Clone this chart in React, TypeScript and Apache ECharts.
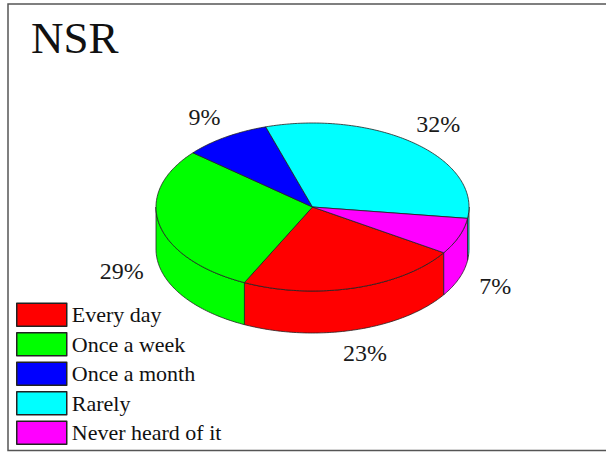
import React, { useEffect, useRef } from "react";
import * as echarts from "echarts";

const categories = ["Every day", "Once a week", "Once a month", "Rarely", "Never heard of it"];
const values = [23, 29, 9, 32, 7];
const pctLabels = ["23%", "29%", "9%", "32%", "7%"];
const colors = ["#ff0000", "#00ff00", "#0000ff", "#00ffff", "#ff00ff"];
const titleText = "NSR";

const SERIF = "Liberation Serif";

// geometry of the projected disc
const CX = 312.5;
const CY = 207;
const RX = 156.5;
const RY = 84;
const DEPTH = 42;
const START = 33; // degrees, clockwise on screen
const LBL_RX = 195;
const LBL_RY = 105;
const EDGE = "#222";

const total = values.reduce((a, b) => a + b, 0);
const cumStart: number[] = [];
values.reduce((acc, v, i) => {
  cumStart[i] = acc;
  return acc + v;
}, 0);

function pt(tDeg: number, dy = 0): number[] {
  const r = (tDeg * Math.PI) / 180;
  return [CX + RX * Math.cos(r), CY + RY * Math.sin(r) + dy];
}

function arc(a: number, b: number, dy = 0): number[][] {
  const n = Math.max(2, Math.ceil(Math.abs(b - a) / 1) + 1);
  const pts: number[][] = [];
  for (let k = 0; k < n; k++) pts.push(pt(a + ((b - a) * k) / (n - 1), dy));
  return pts;
}

function sliceAngles(idx: number, v: number) {
  const a = START + (cumStart[idx] / total) * 360;
  const b = a + (v / total) * 360;
  return [a, b];
}

export default function App() {
  const ref = useRef<HTMLDivElement>(null);
  useEffect(() => {
    document.body.style.margin = "0";
    const chart = echarts.init(ref.current!, null, { renderer: "svg" });

    const sideItem = (params: any, api: any) => {
      const idx = params.dataIndex;
      const v = api.value(0);
      const [a, b] = sliceAngles(idx, v);
      const children: any[] = [];
      for (const k of [0, 360]) {
        const lo = Math.max(a, k);
        const hi = Math.min(b, k + 180);
        if (lo < hi) {
          const pts = [...arc(lo, hi, 0), ...arc(hi, lo, DEPTH)];
          children.push({
            type: "polygon",
            shape: { points: pts },
            style: { fill: colors[idx], stroke: EDGE, lineWidth: 0.8 },
          });
        }
      }
      return { type: "group", children };
    };

    const topItem = (params: any, api: any) => {
      const idx = params.dataIndex;
      const v = api.value(0);
      const [a, b] = sliceAngles(idx, v);
      const pts = [[CX, CY], ...arc(a, b, 0)];
      const mid = ((a + b) / 2) * (Math.PI / 180);
      const s = Math.sin(mid);
      const c = Math.cos(mid);
      const lx = CX + LBL_RX * c;
      const ly = CY - 3 + LBL_RY * s + (s > 0 ? DEPTH + 2 + 4 * s : 0);
      return {
        type: "group",
        children: [
          {
            type: "polygon",
            shape: { points: pts },
            style: { fill: colors[idx], stroke: EDGE, lineWidth: 0.8 },
          },
          {
            type: "text",
            x: lx,
            y: ly,
            style: {
              text: pctLabels[idx],
              fill: "#1a1a1a",
              font: "24px " + SERIF,
              align: "center",
              verticalAlign: "middle",
            },
          },
        ],
      };
    };

    const option: any = {
      animation: false,
      backgroundColor: "#ffffff",
      title: {
        text: titleText,
        left: 31,
        top: 15,
        padding: 0,
        textStyle: { fontFamily: SERIF, fontSize: 45, fontWeight: "normal", color: "#111" },
      },
      legend: {
        orient: "vertical",
        left: 16,
        top: 302.5,
        height: 145,
        padding: 0,
        itemWidth: 50,
        itemHeight: 23,
        itemGap: 5,
        icon: "rect",
        selectedMode: false,
        data: categories,
        itemStyle: { borderColor: EDGE, borderWidth: 1.5 },
        textStyle: { fontFamily: SERIF, fontSize: 22, color: "#111", lineHeight: 23 },
      },
      graphic: [
        {
          type: "rect",
          silent: true,
          z: 0,
          shape: { x: 8, y: 4, width: 640, height: 446.5 },
          style: { fill: "none", stroke: "#555", lineWidth: 1.5 },
        },
      ],
      series: [
        {
          type: "pie",
          name: "legend",
          radius: [0, 0],
          center: [-100, -100],
          silent: true,
          label: { show: false },
          labelLine: { show: false },
          data: categories.map((n, i) => ({ name: n, value: values[i], itemStyle: { color: colors[i] } })),
        },
        {
          type: "custom",
          coordinateSystem: "none",
          z: 2,
          silent: true,
          renderItem: sideItem,
          data: values.map((v) => [v]),
        },
        {
          type: "custom",
          coordinateSystem: "none",
          z: 3,
          silent: true,
          renderItem: topItem,
          data: values.map((v) => [v]),
        },
      ],
    };
    chart.setOption(option);
    return () => chart.dispose();
  }, []);
  return <div ref={ref} style={{ width: 606, height: 452 }} />;
}
